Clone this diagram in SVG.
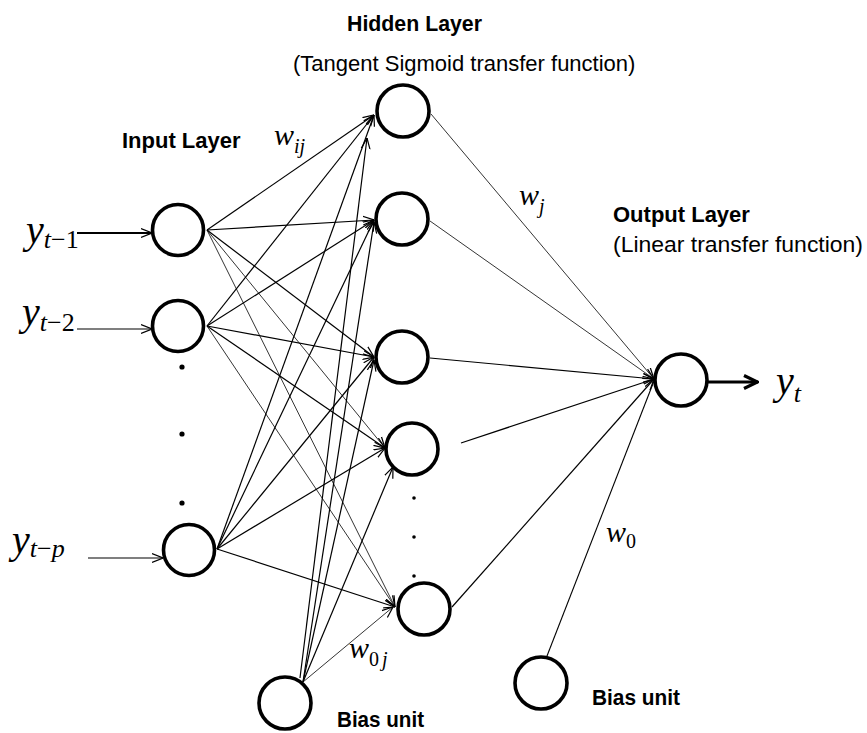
<svg xmlns="http://www.w3.org/2000/svg" width="867" height="733" viewBox="0 0 867 733">
<style>
  .node { fill: #fff; stroke: #000; stroke-width: 3.6; }
  .lbl { font-family: "Liberation Sans", Arial, sans-serif; font-size: 22px; fill: #000; }
  .b { font-weight: bold; }
  .m { font-family: "Liberation Serif", "Times New Roman", serif; font-style: italic; fill: #000; }
  .mr { font-family: "Liberation Serif", "Times New Roman", serif; fill: #000; }
  .c { stroke: #000; stroke-width: 1.2; fill: none; marker-end: url(#ah); }
  .t { stroke: #000; stroke-width: 0.8; fill: none; marker-end: url(#ah); }
  .n { stroke: #000; stroke-width: 1.1; fill: none; }
</style>
<defs>
  <marker id="ah" viewBox="0 0 10 10" refX="10" refY="5" markerWidth="11" markerHeight="11" markerUnits="userSpaceOnUse" orient="auto">
    <path d="M0,1 L10,5 L0,9" fill="none" stroke="#000" stroke-width="1.1"/>
  </marker>
  <marker id="big" viewBox="0 0 16 16" refX="15" refY="8" markerWidth="16" markerHeight="16" markerUnits="userSpaceOnUse" orient="auto">
    <path d="M1,1.5 L14.5,8 L1,14.5" fill="none" stroke="#000" stroke-width="3.2"/>
  </marker>
</defs>

<g id="connectors">
  <!-- external inputs -->
  <line class="c" x1="77" y1="233" x2="152" y2="233" style="stroke-width:2"/>
  <line class="c" x1="77" y1="329" x2="152" y2="329"/>
  <line class="c" x1="88" y1="558" x2="163" y2="558"/>
  <!-- input 1 -> hidden -->
  <line class="c" x1="207" y1="230" x2="374" y2="115"/>
  <line class="c" x1="207" y1="230" x2="374" y2="220"/>
  <line class="c" x1="207" y1="230" x2="374" y2="357"/>
  <line class="t" x1="207" y1="230" x2="385" y2="448"/>
  <line class="t" x1="207" y1="230" x2="395" y2="607"/>
  <!-- input 2 -> hidden -->
  <line class="c" x1="207" y1="326" x2="374" y2="115"/>
  <line class="c" x1="207" y1="326" x2="374" y2="220"/>
  <line class="c" x1="207" y1="326" x2="374" y2="357"/>
  <line class="c" x1="207" y1="326" x2="385" y2="448"/>
  <line class="t" x1="207" y1="326" x2="395" y2="607"/>
  <!-- input p -> hidden -->
  <line class="c" x1="217" y1="549" x2="374" y2="115"/>
  <line class="c" x1="217" y1="549" x2="374" y2="220"/>
  <line class="c" x1="217" y1="549" x2="374" y2="357"/>
  <line class="c" x1="217" y1="549" x2="385" y2="448"/>
  <line class="c" x1="217" y1="549" x2="395" y2="607"/>
  <!-- bias -> hidden -->
  <line class="c" x1="300" y1="678" x2="367" y2="138"/>
  <line class="c" x1="303" y1="682" x2="374" y2="222"/>
  <line class="c" x1="303" y1="682" x2="374" y2="360"/>
  <line class="c" x1="303" y1="682" x2="393" y2="467"/>
  <line class="t" x1="303" y1="682" x2="393" y2="607"/>
  <!-- hidden -> output -->
  <line class="t" x1="431" y1="114" x2="654" y2="379"/>
  <line class="t" x1="430" y1="221" x2="654" y2="379"/>
  <line class="c" x1="430" y1="358" x2="654" y2="379"/>
  <line class="c" x1="461" y1="443" x2="654" y2="379"/>
  <line class="c" x1="452" y1="607" x2="654" y2="379"/>
  <line class="n" x1="547" y1="656" x2="654" y2="381"/>
  <!-- output -->
  <line x1="708" y1="382" x2="758" y2="382" stroke="#000" stroke-width="3.2" marker-end="url(#big)"/>
</g>

<g id="input1"><circle class="node" cx="178" cy="230" r="25.5"/></g>
<g id="input2"><circle class="node" cx="178" cy="326" r="25.5"/></g>
<g id="inputp"><circle class="node" cx="189" cy="550" r="25.5"/></g>
<g id="input-dots" fill="#000">
  <circle cx="182" cy="367" r="2.6"/>
  <circle cx="182" cy="434" r="2.6"/>
  <circle cx="182" cy="503" r="2.6"/>
</g>
<g id="hidden1"><circle class="node" cx="403" cy="111" r="26"/></g>
<g id="hidden2"><circle class="node" cx="402" cy="219" r="26"/></g>
<g id="hidden3"><circle class="node" cx="402" cy="357" r="26"/></g>
<g id="hidden4"><circle class="node" cx="412" cy="449" r="26"/></g>
<g id="hidden5"><circle class="node" cx="424" cy="609" r="26"/></g>
<g id="hidden-dots" fill="#000">
  <circle cx="414" cy="498" r="1.8"/>
  <circle cx="414" cy="537" r="1.8"/>
  <circle cx="414" cy="576" r="1.8"/>
</g>
<g id="bias-hidden"><circle class="node" cx="285" cy="703" r="26"/></g>
<g id="output"><circle class="node" cx="681" cy="380" r="26"/></g>
<g id="bias-output"><circle class="node" cx="541" cy="683" r="26"/></g>

<g id="labels">
  <text class="lbl b" x="347" y="31" textLength="135" lengthAdjust="spacingAndGlyphs">Hidden Layer</text>
  <text class="lbl" x="293" y="71">(Tangent Sigmoid transfer function)</text>
  <text class="lbl b" x="122" y="148">Input Layer</text>
  <text class="lbl b" x="613" y="222">Output Layer</text>
  <text class="lbl" x="613" y="252" textLength="250" lengthAdjust="spacingAndGlyphs">(Linear transfer function)</text>
  <text class="lbl b" x="337" y="727" textLength="87" lengthAdjust="spacingAndGlyphs">Bias unit</text>
  <text class="lbl b" x="592" y="705" textLength="88" lengthAdjust="spacingAndGlyphs">Bias unit</text>

  <text x="26" y="243"><tspan class="m" font-size="40">y</tspan><tspan class="m" font-size="26" dy="5">t</tspan><tspan class="mr" font-size="26">−1</tspan></text>
  <text x="22" y="325"><tspan class="m" font-size="40">y</tspan><tspan class="m" font-size="26" dy="6">t</tspan><tspan class="mr" font-size="26">−2</tspan></text>
  <text x="12" y="553"><tspan class="m" font-size="40">y</tspan><tspan class="m" font-size="26" dy="4">t</tspan><tspan class="mr" font-size="26">−</tspan><tspan class="m" font-size="26">p</tspan></text>
  <text x="776" y="394"><tspan class="m" font-size="40">y</tspan><tspan class="m" font-size="26" dy="8">t</tspan></text>

  <text x="274" y="145"><tspan class="m" font-size="30">w</tspan><tspan class="m" font-size="20" dy="8">ij</tspan></text>
  <text x="519" y="205"><tspan class="m" font-size="30">w</tspan><tspan class="m" font-size="20" dy="8">j</tspan></text>
  <text x="606" y="542"><tspan class="m" font-size="30">w</tspan><tspan class="mr" font-size="20" dy="6">0</tspan></text>
  <text x="349" y="658"><tspan class="m" font-size="30">w</tspan><tspan class="mr" font-size="20" dy="8">0</tspan><tspan class="m" font-size="20" dx="3">j</tspan></text>
</g>
</svg>
